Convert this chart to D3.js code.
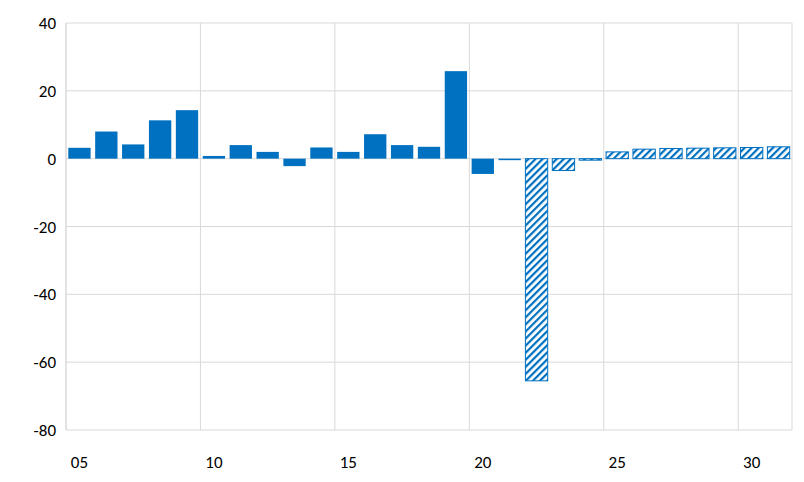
<!DOCTYPE html>
<html><head><meta charset="utf-8">
<script src="https://cdn.jsdelivr.net/npm/d3@7"></script>
<style>body{margin:0;background:#fff}</style>
</head><body>
<svg id="chart" width="804" height="482"></svg>
<script>
const years = d3.range(2005, 2032);
const values = [3.2, 8, 4.2, 11.3, 14.3, 0.8, 4, 2, -2.2, 3.3, 2, 7.2, 4, 3.5, 25.8,
                -4.5, -0.4, -65.5, -3.5, -0.4, 2, 2.8, 3, 3.1, 3.2, 3.3, 3.5];
const firstForecast = 2022;
const yTicks = [40, 20, 0, -20, -40, -60, -80];

const svg = d3.select("#chart");
const mLeft = 66, mRight = 792, mTop = 23, mBottom = 430;
const blue = "#0070C0";

const x = d3.scaleBand().domain(years).range([mLeft, mRight]).paddingInner(0.17).paddingOuter(0.085);
const xs = d3.scaleBand().domain(years).range([mLeft, mRight]);
const y = d3.scaleLinear().domain([-80, 40]).range([mBottom, mTop]);

const defs = svg.append("defs");
const pat = defs.append("pattern").attr("id", "hatch").attr("patternUnits", "userSpaceOnUse")
  .attr("width", 5).attr("height", 5).attr("patternTransform", "rotate(45)");
pat.append("rect").attr("width", 5).attr("height", 5).attr("fill", "#fff");
pat.append("rect").attr("width", 2.2).attr("height", 5).attr("fill", blue);

// grid
svg.append("g").selectAll("line").data(yTicks).join("line")
  .attr("x1", mLeft).attr("x2", mRight).attr("y1", d => y(d)).attr("y2", d => y(d))
  .attr("stroke", "#d9d9d9");
svg.append("g").selectAll("line").data(years.filter(d => d % 5 === 0).concat([2032])).join("line")
  .attr("x1", d => d === 2032 ? mRight : xs(d)).attr("x2", d => d === 2032 ? mRight : xs(d))
  .attr("y1", mTop).attr("y2", mBottom).attr("stroke", "#d9d9d9");
svg.append("line").attr("x1", mLeft).attr("x2", mLeft).attr("y1", mTop).attr("y2", mBottom).attr("stroke", "#d9d9d9");

// bars
svg.append("g").selectAll("rect").data(years).join("rect")
  .attr("x", d => x(d))
  .attr("width", x.bandwidth())
  .attr("y", (d, i) => y(Math.max(0, values[i])))
  .attr("height", (d, i) => Math.max(1.5, Math.abs(y(values[i]) - y(0))))
  .attr("fill", d => d >= firstForecast ? "url(#hatch)" : blue)
  .attr("stroke", d => d >= firstForecast ? blue : "none")
  .attr("stroke-width", 1);

// labels
svg.append("g").selectAll("text").data(yTicks).join("text")
  .attr("x", 56).attr("y", d => y(d) + 6).attr("text-anchor", "end")
  .attr("font-family", "Calibri, Carlito, 'Liberation Sans', sans-serif").attr("font-size", 17)
  .text(d => d);
svg.append("g").selectAll("text").data(years.filter(d => d % 5 === 0)).join("text")
  .attr("x", d => xs(d) + xs.bandwidth() / 2).attr("y", 468).attr("text-anchor", "middle")
  .attr("font-family", "Calibri, Carlito, 'Liberation Sans', sans-serif").attr("font-size", 17)
  .text(d => String(d).slice(2));
</script>
</body></html>
